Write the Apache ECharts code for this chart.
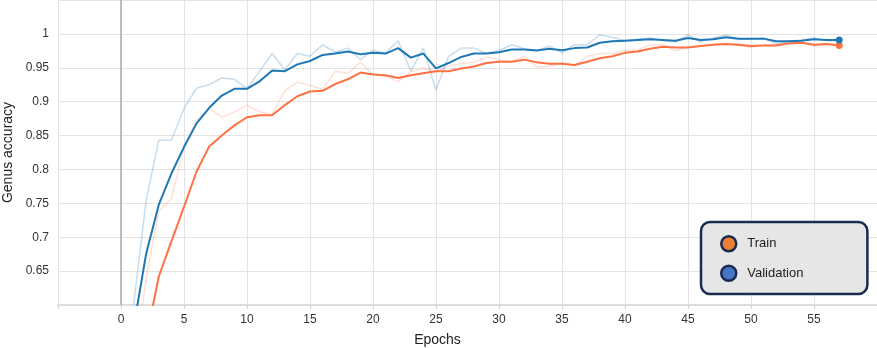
<!DOCTYPE html>
<html>
<head>
<meta charset="utf-8">
<script src="https://cdn.jsdelivr.net/npm/echarts@6/dist/echarts.min.js"></script>
<style>
  html, body { margin: 0; padding: 0; background: #fff; }
  #acc { width: 877px; height: 348px; }
</style>
</head>
<body>
<div id="acc"></div>
<script>
var epochs = [1,2,3,4,5,6,7,8,9,10,11,12,13,14,15,16,17,18,19,20,21,22,23,24,25,26,27,28,29,30,
  31,32,33,34,35,36,37,38,39,40,41,42,43,44,45,46,47,48,49,50,51,52,53,54,55,56,57];

// raw (faint) curves
var trainRaw = [0.50,0.640,0.738,0.757,0.833,0.873,0.890,0.877,0.885,0.895,
  0.885,0.881,0.916,0.929,0.924,0.918,0.945,0.942,0.958,0.940,
  0.937,0.930,0.944,0.949,0.945,0.953,0.956,0.958,0.966,0.962,
  0.959,0.967,0.951,0.952,0.957,0.953,0.967,0.971,0.971,0.976,
  0.976,0.984,0.984,0.975,0.981,0.982,0.985,0.985,0.983,0.980,
  0.984,0.984,0.988,0.988,0.982,0.985,0.984];
var valRaw = [0.600,0.755,0.843,0.843,0.890,0.920,0.925,0.935,0.933,0.919,
  0.945,0.971,0.947,0.971,0.967,0.984,0.973,0.979,0.962,0.976,
  0.972,0.990,0.945,0.979,0.917,0.967,0.979,0.979,0.971,0.9755,
  0.984,0.978,0.9755,0.982,0.972,0.984,0.984,0.9985,0.995,0.990,
  0.992,0.994,0.990,0.988,0.9985,0.988,0.994,0.9985,0.993,0.993,
  0.994,0.985,0.989,0.991,0.994,0.990,0.990];

// smoothed curves
var trainSmooth = [0.46,0.55,0.642,0.694,0.745,0.797,0.834,0.850,0.865,0.877,
  0.880,0.880,0.895,0.908,0.915,0.916,0.926,0.933,0.943,0.940,
  0.939,0.935,0.939,0.942,0.945,0.945,0.949,0.952,0.957,0.959,
  0.959,0.962,0.958,0.956,0.956,0.954,0.959,0.964,0.967,0.972,
  0.974,0.978,0.981,0.980,0.980,0.982,0.984,0.985,0.984,0.982,
  0.983,0.983,0.986,0.987,0.984,0.985,0.983];
var valSmooth = [0.567,0.676,0.748,0.794,0.833,0.868,0.891,0.909,0.919,0.919,
  0.930,0.946,0.945,0.955,0.960,0.969,0.971,0.974,0.970,0.972,
  0.971,0.979,0.965,0.971,0.949,0.957,0.966,0.971,0.971,0.973,
  0.977,0.977,0.9755,0.978,0.976,0.979,0.980,0.987,0.989,0.990,
  0.991,0.992,0.991,0.990,0.994,0.991,0.992,0.995,0.993,0.993,
  0.993,0.989,0.989,0.990,0.992,0.991,0.991];

var xTicks = [0,5,10,15,20,25,30,35,40,45,50,55];

function pairs(ys, dot) {
  return ys.map(function (y, i) {
    var p = { value: [epochs[i], y] };
    if (dot && i === ys.length - 1) { p.symbol = 'circle'; p.symbolSize = 7; }
    return p;
  });
}

var chart = echarts.init(document.querySelector('#acc'));
var option = {
  animation: false,
  textStyle: { fontFamily: 'Liberation Sans, Arial, sans-serif' },
  grid: { left: 58, right: 0, top: 0, bottom: 43, outerBoundsMode: 'none', containLabel: false },
  legend: {
    orient: 'vertical',
    left: 701, top: 222,
    icon: 'circle',
    itemWidth: 15, itemHeight: 15,
    itemGap: 12,
    padding: [13, 64, 12, 19],
    backgroundColor: '#e6e6e6',
    borderColor: '#1a2b50',
    borderWidth: 2.5,
    borderRadius: 9,
    textStyle: { fontSize: 13, color: '#222', padding: [0, 0, 0, 6] },
    data: [
      { name: 'Train', itemStyle: { color: '#ee7e33', borderColor: '#1a2b50', borderWidth: 2.5 } },
      { name: 'Validation', itemStyle: { color: '#4675c8', borderColor: '#1a2b50', borderWidth: 2.5 } }
    ]
  },
  xAxis: {
    type: 'value',
    min: -5, max: 60, interval: 5,
    name: 'Epochs',
    nameLocation: 'middle',
    nameGap: 28,
    nameTextStyle: { fontSize: 14, color: '#222', padding: [0, 60, 0, 0] },
    axisLine: { onZero: false, lineStyle: { color: '#dedede', width: 2 } },
    axisTick: { show: true, length: 4, lineStyle: { color: '#d0d0d0' } },
    axisLabel: {
      color: '#333', fontSize: 12, margin: 9,
      formatter: function (v) { return xTicks.indexOf(v) >= 0 ? String(v) : ''; }
    },
    splitLine: { show: true, lineStyle: { color: '#e3e3e3', width: 1 } }
  },
  yAxis: {
    type: 'value',
    min: 0.6, max: 1.05, interval: 0.05,
    name: 'Genus accuracy',
    nameLocation: 'middle',
    nameGap: 43,
    nameTextStyle: { fontSize: 14, color: '#222' },
    axisLine: { show: false },
    axisTick: { show: false },
    axisLabel: {
      color: '#333', fontSize: 12, margin: 9,
      showMinLabel: false, showMaxLabel: false,
      formatter: function (v) { return String(+v.toFixed(2)); }
    },
    splitLine: { show: true, lineStyle: { color: '#e3e3e3', width: 1 } }
  },
  series: [
    {
      name: 'zero', type: 'line', data: [], silent: true,
      markLine: {
        silent: true, symbol: 'none', label: { show: false },
        lineStyle: { color: '#a8a8a8', type: 'solid', width: 1.5 },
        data: [{ xAxis: 0 }]
      }
    },
    {
      name: 'Train raw', type: 'line', data: pairs(trainRaw, false),
      showSymbol: false, silent: true,
      lineStyle: { color: 'rgba(255,112,67,0.22)', width: 1.5 }
    },
    {
      name: 'Validation raw', type: 'line', data: pairs(valRaw, false),
      showSymbol: false, silent: true,
      lineStyle: { color: 'rgba(31,120,182,0.25)', width: 1.5 }
    },
    {
      name: 'Train', type: 'line', data: pairs(trainSmooth, true),
      symbol: 'none', showSymbol: true,
      itemStyle: { color: '#ff7043' },
      lineStyle: { color: '#ff7043', width: 2 }
    },
    {
      name: 'Validation', type: 'line', data: pairs(valSmooth, true),
      symbol: 'none', showSymbol: true,
      itemStyle: { color: '#1f78b6' },
      lineStyle: { color: '#1f78b6', width: 2 }
    }
  ]
};
chart.setOption(option);
</script>
</body>
</html>
